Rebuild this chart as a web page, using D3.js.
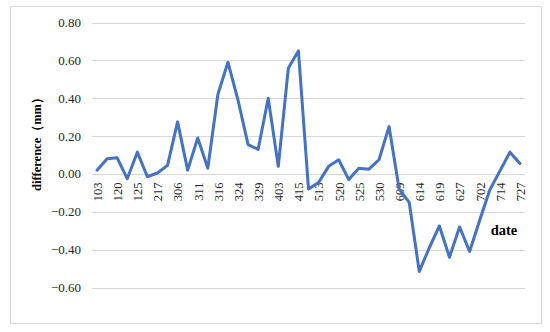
<!DOCTYPE html>
<html><head><meta charset="utf-8">
<script src="https://cdn.jsdelivr.net/npm/d3@7"></script>
<style>body{margin:0;background:#fff} svg text{font-family:"Liberation Serif","Times New Roman",serif}</style>
</head><body>
<svg id="c" width="550" height="332"></svg>
<script>
// shown category labels (every other date)
const tickLabels = ["103","120","125","217","306","311","316","324","329","403","415","513","520","525","530","609","614","619","627","702","714","727"];
// difference values (mm), one per measurement (43 points)
const values = [0.02,0.08,0.085,-0.025,0.115,-0.015,0.005,0.045,0.275,0.02,
  0.19,0.03,0.42,0.59,0.39,0.155,0.13,0.40,0.04,0.56,
  0.65,-0.08,-0.045,0.04,0.075,-0.03,0.03,0.025,0.075,0.25,
  -0.08,-0.15,-0.515,-0.39,-0.275,-0.44,-0.28,-0.41,-0.245,-0.085,
  0.015,0.115,0.055];
const yTicks = [-0.6,-0.4,-0.2,0,0.2,0.4,0.6,0.8];

const svg = d3.select("#c");
svg.append("rect").attr("x",10.5).attr("y",6.5).attr("width",531).attr("height",317)
  .attr("fill","#fff").attr("stroke","#d9d9d9").attr("stroke-width",1);

const x = d3.scalePoint().domain(d3.range(values.length)).range([92,525]).padding(0.5);
const y = d3.scaleLinear().domain([-0.6,0.8]).range([287.5,22.5]);

// gridlines
svg.append("g").selectAll("line").data(yTicks).join("line")
  .attr("x1",92).attr("x2",525)
  .attr("y1",d=>Math.round(y(d))+0.5).attr("y2",d=>Math.round(y(d))+0.5)
  .attr("stroke","#d9d9d9").attr("stroke-width",1);

// y tick labels
svg.append("g").selectAll("text").data(yTicks).join("text")
  .attr("x",81).attr("y",d=>y(d)).attr("dy","0.35em")
  .attr("text-anchor","end")
  .style("font-size","13px").attr("fill","#262626")
  .text(d=>d3.format(".2f")(d));

// x axis labels at zero line
const xAxis = d3.axisBottom(x)
  .tickValues(d3.range(0,values.length,2))
  .tickFormat(i=>tickLabels[i/2])
  .tickSize(0);
const gx = svg.append("g").attr("transform",`translate(0,${y(0)})`).call(xAxis);
gx.attr("font-family",null).attr("font-size",null);
gx.select(".domain").remove();
gx.selectAll("text")
  .style("font-size","12.5px").attr("fill","#262626")
  .attr("transform","rotate(-90)")
  .attr("text-anchor","end")
  .attr("x",-8.5).attr("y",0).attr("dy","0.35em");

// line
const line = d3.line().x((d,i)=>x(i)).y(d=>y(d));
svg.append("path").datum(values)
  .attr("d",line).attr("fill","none")
  .attr("stroke","#4472C4").attr("stroke-width",3)
  .attr("stroke-linejoin","round").attr("stroke-linecap","round");

// axis titles
svg.append("text")
  .attr("transform","translate(41,141) rotate(-90)")
  .attr("text-anchor","middle")
  .style("font-weight","bold").style("font-size","12.5px").attr("fill","#000")
  .text("difference（mm）");
svg.append("text")
  .attr("x",504).attr("y",235)
  .attr("text-anchor","middle")
  .style("font-weight","bold").style("font-size","14.5px").attr("fill","#000")
  .text("date");
</script>
</body></html>
